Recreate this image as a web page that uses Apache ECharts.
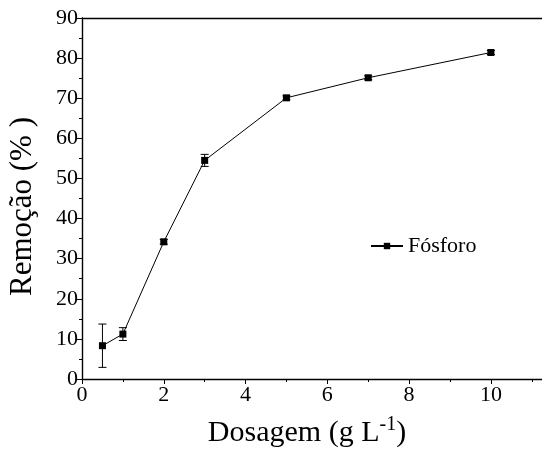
<!DOCTYPE html>
<html>
<head>
<meta charset="utf-8">
<script src="https://cdn.jsdelivr.net/npm/echarts@6/dist/echarts.min.js"></script>
<style>
  html, body { margin: 0; padding: 0; background: #fff; }
  #chart { width: 542px; height: 455px; }
</style>
</head>
<body>
<div id="chart"></div>
<script>
// dados
var doses = [0.5, 1, 2, 3, 5, 7, 10];
var remocao = [8.3, 11.2, 34.2, 54.5, 70.1, 75.1, 81.4];
var erro = [5.4, 1.6, 0.6, 1.5, 0.5, 0.5, 0.5];

var fonte = 'Liberation Serif';

var chart = echarts.init(document.getElementById('chart'));

var pontos = doses.map(function (d, i) { return [d, remocao[i]]; });
var barras = doses.map(function (d, i) { return [d, remocao[i] - erro[i], remocao[i] + erro[i]]; });

chart.setOption({
  animation: false,
  grid: { left: 82, right: 0, top: 18, bottom: 76, outerBoundsMode: 'none', containLabel: false },
  legend: {
    left: 365, top: 230,
    itemWidth: 32, itemHeight: 8,
    textStyle: { fontFamily: fonte, fontSize: 22, color: '#000' },
    data: ['Fósforo']
  },
  xAxis: [{
    type: 'value', min: 0, max: 11.25, interval: 2,
    name: 'Dosagem (g L{sup|-1})', nameLocation: 'middle', nameGap: 36,
    nameTextStyle: {
      fontFamily: fonte, fontSize: 30, color: '#000', padding: [0, 10, 0, 0],
      rich: { sup: { fontFamily: fonte, fontSize: 20, color: '#000', padding: [0, 0, 16, 0] } }
    },
    axisLine: { lineStyle: { color: '#000', width: 1.4 } },
    axisTick: { inside: false, length: 5, lineStyle: { color: '#000' } },
    minorTick: { show: true, splitNumber: 2, length: 3, lineStyle: { color: '#000' } },
    axisLabel: { fontFamily: fonte, fontSize: 22, color: '#000', margin: 5,
      formatter: function (v) { return v > 10 ? '' : v; } },
    splitLine: { show: false }
  }, {
    type: 'value', position: 'top', min: 0, max: 11.25,
    axisLine: { show: true, lineStyle: { color: '#000', width: 1.4 } },
    axisTick: { show: false }, axisLabel: { show: false }, splitLine: { show: false }
  }],
  yAxis: {
    type: 'value', min: 0, max: 90, interval: 10,
    name: 'Remoção (% )', nameLocation: 'middle', nameGap: 44,
    nameTextStyle: { fontFamily: fonte, fontSize: 31, color: '#000', padding: [0, 16, 0, 0] },
    axisLine: { show: true, lineStyle: { color: '#000', width: 1.4 } },
    axisTick: { inside: false, length: 5, lineStyle: { color: '#000' } },
    minorTick: { show: true, splitNumber: 2, length: 3, lineStyle: { color: '#000' } },
    axisLabel: { fontFamily: fonte, fontSize: 22, color: '#000', margin: 4 },
    splitLine: { show: false }
  },
  series: [{
    name: 'Fósforo',
    type: 'line',
    data: pontos,
    symbol: 'rect', symbolSize: 7,
    itemStyle: { color: '#000' },
    lineStyle: { color: '#000', width: 1 },
    z: 3
  }, {
    type: 'custom',
    data: barras,
    z: 2,
    renderItem: function (params, api) {
      var x = api.value(0);
      var lo = api.coord([x, api.value(1)]);
      var hi = api.coord([x, api.value(2)]);
      var w = 4;
      var st = { stroke: '#000', lineWidth: 1 };
      return {
        type: 'group',
        children: [
          { type: 'line', shape: { x1: lo[0], y1: lo[1], x2: hi[0], y2: hi[1] }, style: st },
          { type: 'line', shape: { x1: lo[0] - w, y1: lo[1], x2: lo[0] + w, y2: lo[1] }, style: st },
          { type: 'line', shape: { x1: hi[0] - w, y1: hi[1], x2: hi[0] + w, y2: hi[1] }, style: st }
        ]
      };
    }
  }]
});
</script>
</body>
</html>
